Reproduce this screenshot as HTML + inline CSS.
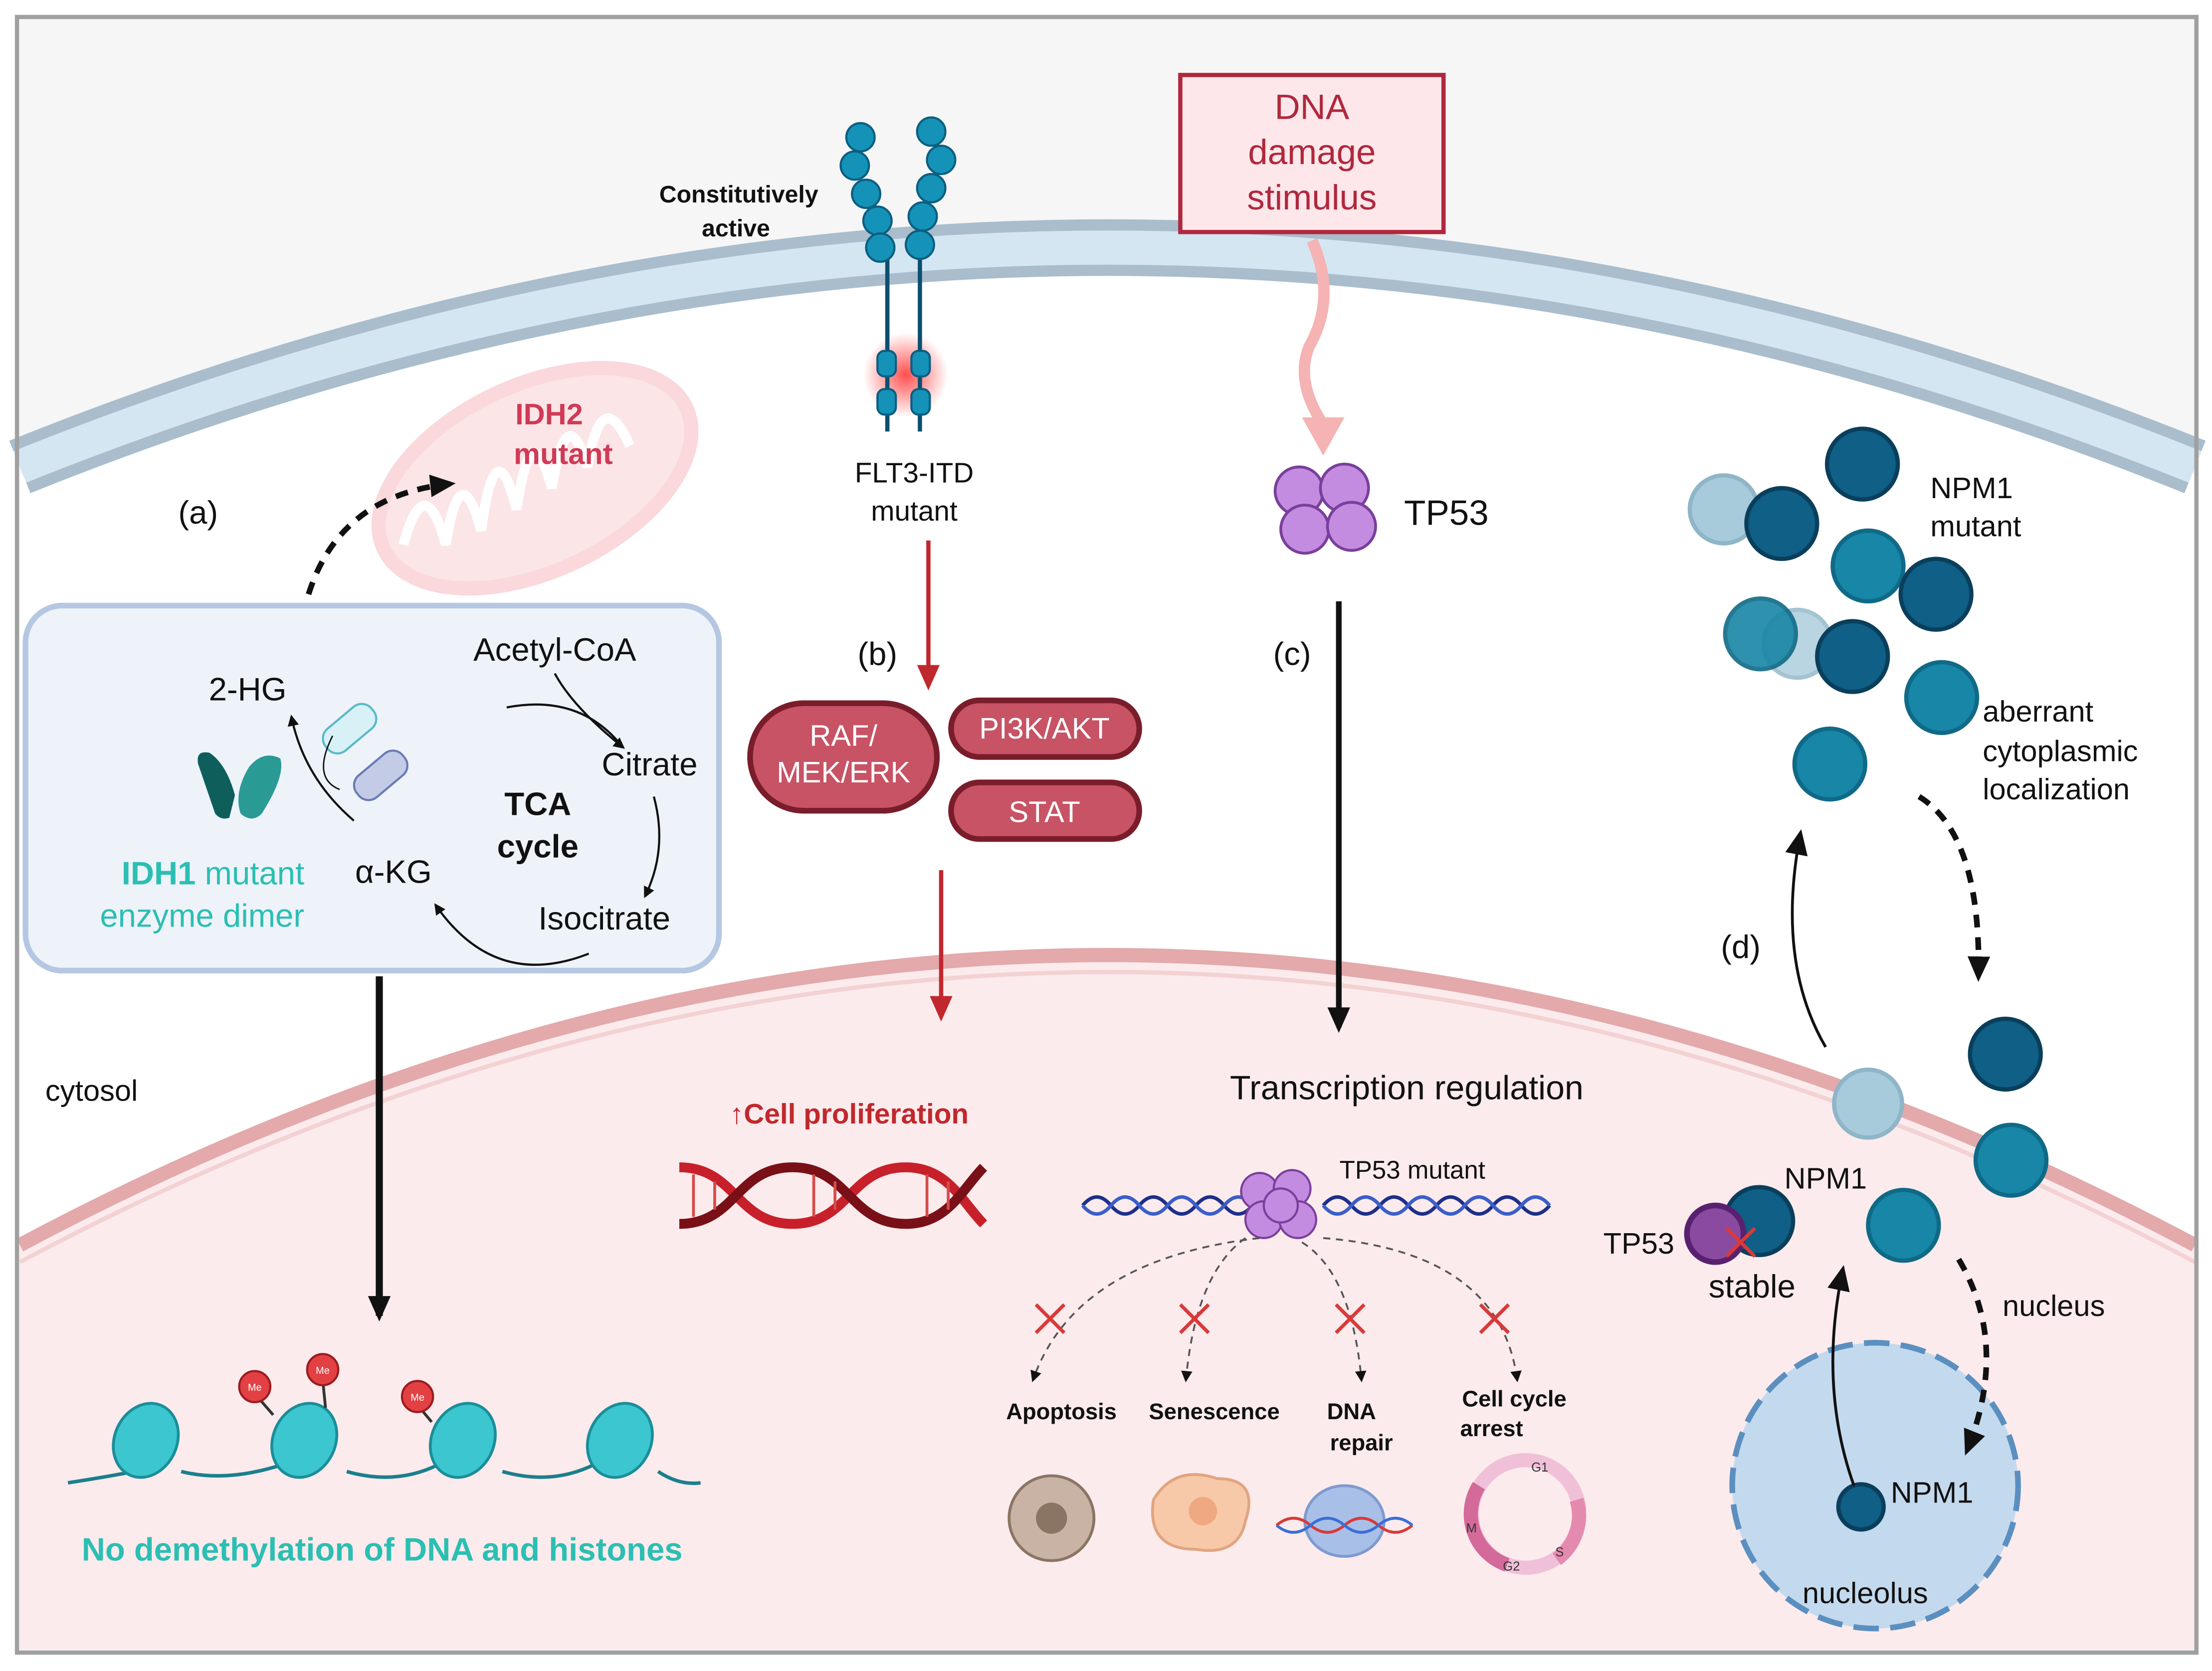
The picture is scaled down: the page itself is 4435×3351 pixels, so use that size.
<!DOCTYPE html>
<html><head><meta charset="utf-8"><style>
html,body{margin:0;padding:0;background:#fff}
svg{display:block}
text{font-family:"Liberation Sans",sans-serif}
</style></head><body>
<svg width="4435" height="3351" viewBox="0 0 1563 1181" xmlns="http://www.w3.org/2000/svg">
<defs>
<marker id="ab" markerWidth="8" markerHeight="8" refX="6" refY="4" orient="auto" markerUnits="userSpaceOnUse"><path d="M0,0 L8,4 L0,8 Z" fill="#111"/></marker>
<marker id="abig" markerWidth="20" markerHeight="20" refX="14" refY="10" orient="auto" markerUnits="userSpaceOnUse"><path d="M0,2 L18,10 L0,18 Z" fill="#111"/></marker>
<marker id="ar" markerWidth="20" markerHeight="20" refX="14" refY="10" orient="auto" markerUnits="userSpaceOnUse"><path d="M0,2 L18,10 L0,18 Z" fill="#c0282d"/></marker>
<radialGradient id="glow"><stop offset="0" stop-color="#ff3b3b" stop-opacity="0.9"/><stop offset="1" stop-color="#ff3b3b" stop-opacity="0"/></radialGradient>
</defs>
<rect x="0" y="0" width="1563" height="1181" fill="#fff"/>
<rect x="12" y="12" width="1540" height="1156" fill="#f6f6f7"/>
<!-- cell membrane -->
<path d="M14,335 Q783,20 1551,335 L1551,1166 L14,1166 Z" fill="#fff"/>
<path d="M14,330 Q783,20 1551,330" fill="none" stroke="#a9bdcc" stroke-width="40"/>
<path d="M14,330 Q783,20 1551,330" fill="none" stroke="#d5e6f3" stroke-width="24"/>
<!-- nucleus -->
<path d="M14,880 Q783,470 1551,880 L1551,1166 L14,1166 Z" fill="#fcebec"/>
<path d="M14,880 Q783,470 1551,880" fill="none" stroke="#e3a9ab" stroke-width="10"/>
<path d="M14,892 Q783,482 1551,892" fill="none" stroke="#f3d2d3" stroke-width="3"/>
<rect x="12" y="12" width="1540" height="1156" fill="none" stroke="#a0a0a0" stroke-width="3"/>
<!-- mitochondrion -->
<g opacity="0.45">
<ellipse cx="378" cy="338" rx="118" ry="66" transform="rotate(-25 378 338)" fill="#f8c7cb" stroke="#f5a9b0" stroke-width="10"/>
<path d="M285,385 Q300,330 315,385 Q325,320 340,375 Q350,300 365,360 Q375,290 390,345 Q400,280 415,330 Q425,270 445,315" fill="none" stroke="#fff" stroke-width="7"/>
</g>
<text x="388" y="300" font-size="21" font-weight="bold" fill="#d03a55" text-anchor="middle">IDH2</text>
<text x="398" y="328" font-size="21" font-weight="bold" fill="#d03a55" text-anchor="middle">mutant</text>
<text x="140" y="370" font-size="23" fill="#111" text-anchor="middle">(a)</text>
<path d="M218,420 Q240,350 318,342" fill="none" stroke="#111" stroke-width="4" stroke-dasharray="9,7" marker-end="url(#abig)"/>
<!-- IDH box -->
<rect x="18" y="428" width="490" height="258" rx="26" fill="#eef3fa" stroke="#b5c7e2" stroke-width="4"/>
<text x="392" y="467" font-size="23" fill="#111" text-anchor="middle">Acetyl-CoA</text>
<text x="175" y="495" font-size="23" fill="#111" text-anchor="middle">2-HG</text>
<text x="459" y="548" font-size="23" fill="#111" text-anchor="middle">Citrate</text>
<text x="380" y="576" font-size="23" font-weight="bold" fill="#111" text-anchor="middle">TCA</text>
<text x="380" y="606" font-size="23" font-weight="bold" fill="#111" text-anchor="middle">cycle</text>
<text x="278" y="624" font-size="23" fill="#111" text-anchor="middle">α-KG</text>
<text x="427" y="657" font-size="23" fill="#111" text-anchor="middle">Isocitrate</text>
<text x="215" y="625" font-size="23" fill="#2bbfb3" text-anchor="end"><tspan font-weight="bold">IDH1</tspan> mutant</text>
<text x="215" y="655" font-size="23" fill="#2bbfb3" text-anchor="end">enzyme dimer</text>
<path d="M140,540 Q138,530 148,532 Q160,540 166,562 L162,578 Q156,580 152,575 Z" fill="#0e5e5c"/>
<path d="M170,575 Q165,560 176,542 Q186,530 198,536 Q202,548 185,575 Q178,582 170,575 Z" fill="#2a9a94"/>
<path d="M392,476 Q405,500 440,528" fill="none" stroke="#111" stroke-width="1.5" marker-end="url(#ab)"/>
<path d="M358,500 Q410,490 440,528" fill="none" stroke="#111" stroke-width="1.5"/>
<path d="M462,563 Q472,600 456,633" fill="none" stroke="#111" stroke-width="1.5" marker-end="url(#ab)"/>
<path d="M416,674 Q350,700 308,640" fill="none" stroke="#111" stroke-width="1.5" marker-end="url(#ab)"/>
<path d="M250,580 Q215,550 206,507" fill="none" stroke="#111" stroke-width="1.5" marker-end="url(#ab)"/>
<rect x="226" y="505" width="42" height="20" rx="9" transform="rotate(-40 247 515)" fill="#d7f1f6" stroke="#5ab8c7" stroke-width="1.5"/>
<rect x="248" y="538" width="42" height="20" rx="9" transform="rotate(-40 269 548)" fill="#c3cbe6" stroke="#6a7bb5" stroke-width="1.5"/>
<path d="M235,520 Q220,550 240,558" fill="none" stroke="#111" stroke-width="1"/>
<line x1="268" y1="690" x2="268" y2="930" stroke="#111" stroke-width="5" marker-end="url(#abig)"/>
<text x="32" y="778" font-size="21" fill="#111">cytosol</text>
<!-- nucleosomes -->
<path d="M48,1048 Q100,1040 115,1035 M128,1040 Q160,1048 200,1035 M245,1040 Q280,1050 310,1035 M355,1040 Q390,1050 420,1035 M465,1040 Q480,1050 495,1048" fill="none" stroke="#1b7f8c" stroke-width="2.5"/>
<g fill="#3cc6cf" stroke="#1a8e99" stroke-width="2">
<ellipse cx="103" cy="1018" rx="22" ry="27" transform="rotate(25 103 1018)"/>
<ellipse cx="215" cy="1018" rx="22" ry="27" transform="rotate(25 215 1018)"/>
<ellipse cx="327" cy="1018" rx="22" ry="27" transform="rotate(25 327 1018)"/>
<ellipse cx="438" cy="1018" rx="22" ry="27" transform="rotate(25 438 1018)"/>
</g>
<g stroke="#333" stroke-width="2"><line x1="180" y1="985" x2="193" y2="1000"/><line x1="228" y1="975" x2="230" y2="995"/><line x1="295" y1="993" x2="305" y2="1005"/></g>
<g fill="#e34044" stroke="#9b1b20" stroke-width="1.5"><circle cx="180" cy="980" r="11"/><circle cx="228" cy="968" r="11"/><circle cx="295" cy="987" r="11"/></g>
<g font-size="7" fill="#fff" text-anchor="middle"><text x="180" y="983">Me</text><text x="228" y="971">Me</text><text x="295" y="990">Me</text></g>
<text x="270" y="1103" font-size="23" font-weight="bold" fill="#2bbfb3" text-anchor="middle">No demethylation of DNA and histones</text>
<!-- FLT3 -->
<circle cx="640" cy="265" r="30" fill="url(#glow)"/>
<g stroke="#0c4f6e" stroke-width="3"><line x1="627" y1="180" x2="627" y2="305"/><line x1="650" y1="180" x2="650" y2="305"/></g>
<g fill="#1592b8" stroke="#0b5e80" stroke-width="1.5">
<circle cx="608" cy="97" r="10"/><circle cx="604" cy="117" r="10"/><circle cx="612" cy="137" r="10"/><circle cx="620" cy="156" r="10"/><circle cx="622" cy="175" r="10"/>
<circle cx="658" cy="93" r="10"/><circle cx="665" cy="113" r="10"/><circle cx="658" cy="133" r="10"/><circle cx="652" cy="153" r="10"/><circle cx="650" cy="173" r="10"/>
<rect x="620" y="248" width="13" height="18" rx="5"/><rect x="644" y="248" width="13" height="18" rx="5"/>
<rect x="620" y="275" width="13" height="18" rx="5"/><rect x="644" y="275" width="13" height="18" rx="5"/>
</g>
<text x="522" y="143" font-size="17" font-weight="bold" fill="#111" text-anchor="middle">Constitutively</text>
<text x="520" y="167" font-size="17" font-weight="bold" fill="#111" text-anchor="middle">active</text>
<text x="646" y="341" font-size="20" fill="#111" text-anchor="middle">FLT3-ITD</text>
<text x="646" y="368" font-size="20" fill="#111" text-anchor="middle">mutant</text>
<line x1="656" y1="382" x2="656" y2="484" stroke="#c0282d" stroke-width="3" marker-end="url(#ar)"/>
<text x="620" y="470" font-size="23" fill="#111" text-anchor="middle">(b)</text>
<g fill="#c75365" stroke="#7a1d2b" stroke-width="4">
<rect x="530" y="497" width="132" height="76" rx="38"/>
<rect x="672" y="495" width="133" height="40" rx="20"/>
<rect x="672" y="553" width="133" height="40" rx="20"/>
</g>
<g font-size="21" fill="#fff" text-anchor="middle">
<text x="596" y="527">RAF/</text><text x="596" y="553">MEK/ERK</text>
<text x="738" y="522">PI3K/AKT</text><text x="738" y="581">STAT</text></g>
<line x1="665" y1="615" x2="665" y2="718" stroke="#c0282d" stroke-width="3" marker-end="url(#ar)"/>
<text x="600" y="794" font-size="20" font-weight="bold" fill="#c0282d" text-anchor="middle">↑Cell proliferation</text>
<path d="M480,825 C520,825 520,865 560,865 C600,865 600,825 640,825 C670,825 680,850 695,865" fill="none" stroke="#c8202a" stroke-width="7"/>
<path d="M480,865 C520,865 520,825 560,825 C600,825 600,865 640,865 C670,865 680,840 695,825" fill="none" stroke="#7a1017" stroke-width="7"/>
<g stroke="#d84a4a" stroke-width="2"><line x1="490" y1="830" x2="490" y2="860"/><line x1="505" y1="835" x2="505" y2="855"/><line x1="575" y1="830" x2="575" y2="860"/><line x1="590" y1="835" x2="590" y2="855"/><line x1="655" y1="830" x2="655" y2="860"/><line x1="670" y1="835" x2="670" y2="855"/></g>
<!-- DNA damage box -->
<rect x="834" y="53" width="186" height="111" fill="#fde7ea" stroke="#b0283d" stroke-width="3"/>
<g font-size="25" fill="#b0283d" text-anchor="middle"><text x="927" y="84">DNA</text><text x="927" y="116">damage</text><text x="927" y="148">stimulus</text></g>
<path d="M927,170 Q945,210 925,245 Q915,270 935,300" fill="none" stroke="#f5b3b3" stroke-width="8"/>
<path d="M920,295 L950,295 L935,322 Z" fill="#f5b3b3"/>
<g fill="#c48ce0" stroke="#7a3f9b" stroke-width="2">
<circle cx="918" cy="347" r="17"/><circle cx="950" cy="345" r="17"/><circle cx="922" cy="374" r="17"/><circle cx="955" cy="372" r="17"/></g>
<text x="1022" y="371" font-size="25" fill="#111" text-anchor="middle">TP53</text>
<text x="913" y="470" font-size="23" fill="#111" text-anchor="middle">(c)</text>
<line x1="946" y1="425" x2="946" y2="726" stroke="#111" stroke-width="4" marker-end="url(#abig)"/>
<text x="994" y="777" font-size="24" fill="#111" text-anchor="middle">Transcription regulation</text>
<g fill="none" stroke="#1e2f8a" stroke-width="2.5">
<path d="M765,852 q10,-12 20,0 t20,0 t20,0 t20,0 t20,0 t20,0 M935,852 q10,-12 20,0 t20,0 t20,0 t20,0 t20,0 t20,0 t20,0 t20,0"/>
<path d="M765,852 q10,12 20,0 t20,0 t20,0 t20,0 t20,0 t20,0 M935,852 q10,12 20,0 t20,0 t20,0 t20,0 t20,0 t20,0 t20,0 t20,0" stroke="#3b5ec9"/></g>
<g fill="#c48ce0" stroke="#7a3f9b" stroke-width="1.5">
<circle cx="890" cy="842" r="13"/><circle cx="913" cy="840" r="13"/><circle cx="893" cy="862" r="13"/><circle cx="917" cy="862" r="13"/><circle cx="905" cy="852" r="12"/></g>
<text x="998" y="833" font-size="18" fill="#111" text-anchor="middle">TP53 mutant</text>
<g fill="none" stroke="#555" stroke-width="1.3" stroke-dasharray="5,4">
<path d="M890,875 Q760,890 730,975" marker-end="url(#ab)"/>
<path d="M880,875 Q845,900 838,975" marker-end="url(#ab)"/>
<path d="M920,878 Q955,900 962,975" marker-end="url(#ab)"/>
<path d="M935,875 Q1060,885 1072,975" marker-end="url(#ab)"/></g>
<g stroke="#d83a3a" stroke-width="2.5">
<path d="M732,922 l20,20 m0,-20 l-20,20"/><path d="M834,922 l20,20 m0,-20 l-20,20"/><path d="M944,922 l20,20 m0,-20 l-20,20"/><path d="M1046,922 l20,20 m0,-20 l-20,20"/></g>
<g font-size="16" font-weight="bold" fill="#111" text-anchor="middle">
<text x="750" y="1003">Apoptosis</text><text x="858" y="1003">Senescence</text><text x="955" y="1003">DNA</text><text x="962" y="1025">repair</text>
<text x="1070" y="994">Cell cycle</text><text x="1054" y="1015">arrest</text></g>
<circle cx="743" cy="1073" r="30" fill="#c8b3a4" stroke="#8a7564" stroke-width="2"/>
<circle cx="743" cy="1073" r="11" fill="#8a7564"/>
<path d="M815,1060 Q830,1035 860,1045 Q890,1045 880,1075 Q875,1100 845,1095 Q810,1095 815,1060 Z" fill="#f7c9a9" stroke="#e0a580" stroke-width="2"/>
<circle cx="850" cy="1068" r="10" fill="#f0a880"/>
<ellipse cx="950" cy="1075" rx="28" ry="25" fill="#a8c0e8" stroke="#7f9ad0" stroke-width="2"/>
<path d="M902,1078 q12,-10 24,0 t24,0 t24,0 t24,0" fill="none" stroke="#d83a3a" stroke-width="2"/>
<path d="M902,1078 q12,10 24,0 t24,0 t24,0 t24,0" fill="none" stroke="#3a6ed8" stroke-width="2"/>
<circle cx="1078" cy="1070" r="38" fill="none" stroke="#f0c0d8" stroke-width="10"/>
<path d="M1045,1050 A38,38 0 0 0 1065,1106" fill="none" stroke="#d36a9a" stroke-width="10"/>
<path d="M1100,1102 A38,38 0 0 0 1114,1060" fill="none" stroke="#e58aaf" stroke-width="10"/>
<g font-size="9" fill="#333"><text x="1082" y="1040">G1</text><text x="1036" y="1083">M</text><text x="1062" y="1110">G2</text><text x="1099" y="1100">S</text></g>
<!-- NPM1 -->
<g stroke="#0a3f5c" stroke-width="3">
<circle cx="1218" cy="360" r="24" fill="#a8cbdc" stroke="#8fb5c8"/>
<circle cx="1259" cy="370" r="25" fill="#0f5f86"/>
<circle cx="1316" cy="328" r="25" fill="#0f5f86"/>
<circle cx="1320" cy="400" r="25" fill="#1886a6" stroke="#0f6a87"/>
<circle cx="1368" cy="420" r="25" fill="#0f5f86"/>
<circle cx="1270" cy="455" r="24" fill="#a8cbdc" stroke="#8fb5c8" opacity="0.8"/>
<circle cx="1244" cy="448" r="25" fill="#1886a6" stroke="#0f6a87" opacity="0.9"/>
<circle cx="1309" cy="464" r="25" fill="#0f5f86"/>
<circle cx="1372" cy="493" r="25" fill="#1886a6" stroke="#0f6a87"/>
<circle cx="1293" cy="540" r="25" fill="#1886a6" stroke="#0f6a87"/>
<circle cx="1417" cy="745" r="25" fill="#0f5f86"/>
<circle cx="1320" cy="780" r="24" fill="#a8cbdc" stroke="#8fb5c8"/>
<circle cx="1421" cy="820" r="25" fill="#1886a6" stroke="#0f6a87"/>
<circle cx="1345" cy="866" r="25" fill="#1886a6" stroke="#0f6a87"/>
<circle cx="1243" cy="863" r="24" fill="#0f5f86"/>
</g>
<circle cx="1212" cy="872" r="20" fill="#8a4aa0" stroke="#5a2070" stroke-width="4"/>
<path d="M1220,868 l20,20 m0,-20 l-20,20" stroke="#d83a3a" stroke-width="2.5"/>
<text x="1364" y="352" font-size="21" fill="#111">NPM1</text>
<text x="1364" y="379" font-size="21" fill="#111">mutant</text>
<text x="1401" y="510" font-size="21" fill="#111">aberrant</text>
<text x="1401" y="538" font-size="21" fill="#111">cytoplasmic</text>
<text x="1401" y="565" font-size="21" fill="#111">localization</text>
<path d="M1356,563 Q1400,590 1398,690" fill="none" stroke="#111" stroke-width="4" stroke-dasharray="9,7" marker-end="url(#abig)"/>
<text x="1230" y="677" font-size="23" fill="#111" text-anchor="middle">(d)</text>
<path d="M1290,740 Q1255,680 1272,590" fill="none" stroke="#111" stroke-width="2" marker-end="url(#abig)"/>
<text x="1290" y="840" font-size="21" fill="#111" text-anchor="middle">NPM1</text>
<text x="1158" y="886" font-size="21" fill="#111" text-anchor="middle">TP53</text>
<text x="1238" y="917" font-size="23" fill="#111" text-anchor="middle">stable</text>
<text x="1415" y="930" font-size="21" fill="#111">nucleus</text>
<circle cx="1325" cy="1050" r="101" fill="#c3d9ee" stroke="#5b8fc0" stroke-width="4" stroke-dasharray="18,8"/>
<circle cx="1315" cy="1065" r="16" fill="#0f5f86" stroke="#0a3f5c" stroke-width="3"/>
<text x="1336" y="1062" font-size="21" fill="#111">NPM1</text>
<text x="1318" y="1133" font-size="21" fill="#111" text-anchor="middle">nucleolus</text>
<path d="M1310,1050 Q1285,980 1302,898" fill="none" stroke="#111" stroke-width="2" marker-end="url(#abig)"/>
<path d="M1384,890 Q1420,950 1390,1025" fill="none" stroke="#111" stroke-width="4" stroke-dasharray="9,7" marker-end="url(#abig)"/>
</svg>
</body></html>
